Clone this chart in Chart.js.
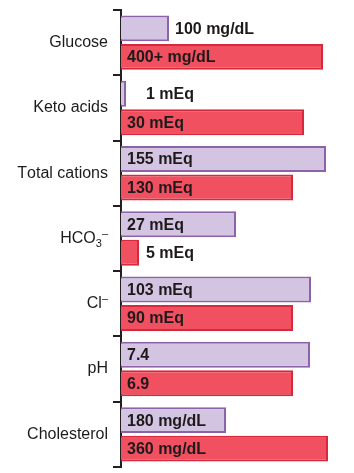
<!DOCTYPE html>
<html>
<head>
<meta charset="utf-8">
<script src="https://cdn.jsdelivr.net/npm/chart.js@4"></script>
<style>
  html, body { margin: 0; padding: 0; background: #fff; }
  #wrap { width: 354px; height: 473px; }
</style>
</head>
<body>
<div id="wrap"><canvas id="myChart"></canvas></div>
<script>
// categories (₃ and ⁻ get drawn as sub/superscript)
let categories = ["Glucose", "Keto acids", "Total cations", "HCO₃⁻", "Cl⁻", "pH", "Cholesterol"]

// bar lengths (schematic, not to a common scale)
let normalLen = [48, 5, 205, 115, 190, 189, 105]
let dkaLen = [202, 183, 172, 18, 172, 172, 207]

// text shown on the bars
let normalText = ["100 mg/dL", "1 mEq", "155 mEq", "27 mEq", "103 mEq", "7.4", "180 mg/dL"]
let dkaText = ["400+ mg/dL", "30 mEq", "130 mEq", "5 mEq", "90 mEq", "6.9", "360 mg/dL"]

const SUB = {"₃": "3"}
const SUP = {"⁻": "–"}

const labelPlugin = {
    id: "labels",
    afterDraw(chart) {
        let ctx = chart.ctx
        let yScale = chart.scales.y
        ctx.save()
        ctx.fillStyle = "#1e1a1b"
        ctx.textBaseline = "middle"

        // category names, right aligned left of the axis
        categories.forEach((name, i) => {
            let y = yScale.getPixelForValue(i)
            let parts = []
            for (let ch of name) {
                if (SUB[ch]) parts.push({t: SUB[ch], s: 11, dy: 5})
                else if (SUP[ch]) parts.push({t: SUP[ch], s: 11, dy: -5})
                else parts.push({t: ch, s: 16, dy: 0})
            }
            let total = 0
            parts.forEach(p => {
                ctx.font = p.s + "px 'Liberation Sans', Arial, sans-serif"
                p.w = ctx.measureText(p.t).width
                total += p.w
            })
            let x = 108 - total
            ctx.textAlign = "left"
            parts.forEach(p => {
                ctx.font = p.s + "px 'Liberation Sans', Arial, sans-serif"
                ctx.fillText(p.t, x, y + p.dy)
                x += p.w
            })
        })

        // value texts on the bars
        ctx.font = "bold 16px 'Liberation Sans', Arial, sans-serif"
        ctx.textAlign = "left"
        let left = chart.chartArea.left
        ;[normalText, dkaText].forEach((texts, d) => {
            let meta = chart.getDatasetMeta(d)
            meta.data.forEach((bar, i) => {
                let w = ctx.measureText(texts[i]).width
                let x
                if (bar.x - left > w + 12) x = left + 6
                else x = Math.max(bar.x + 6, left + 25)
                ctx.fillText(texts[i], x, bar.y + 1)
            })
        })
        ctx.restore()
    }
}

new Chart("myChart", {
    type: "bar",
    data: {
        labels: categories,
        datasets: [{
            data: normalLen,
            backgroundColor: "#d3c5e2",
            borderColor: "#8c63a8",
            borderWidth: 2,
            categoryPercentage: 0.873,
            barPercentage: 0.91
        }, {
            data: dkaLen,
            backgroundColor: "#f0505f",
            borderColor: "#d8293c",
            borderWidth: 2,
            categoryPercentage: 0.873,
            barPercentage: 0.91
        }]
    },
    options: {
        indexAxis: "y",
        responsive: true,
        maintainAspectRatio: false,
        animation: false,
        layout: {padding: {left: 113, top: 10, bottom: 6, right: 0}},
        plugins: {
            legend: {display: false},
            tooltip: {enabled: false}
        },
        scales: {
            x: {display: false, min: 0, max: 233},
            y: {
                offset: true,
                grid: {
                    offset: true,
                    drawOnChartArea: false,
                    drawTicks: true,
                    tickLength: 8,
                    color: "#231f20",
                    lineWidth: 2
                },
                border: {color: "#231f20", width: 2},
                ticks: {display: false}
            }
        }
    },
    plugins: [labelPlugin]
});
</script>
</body>
</html>
